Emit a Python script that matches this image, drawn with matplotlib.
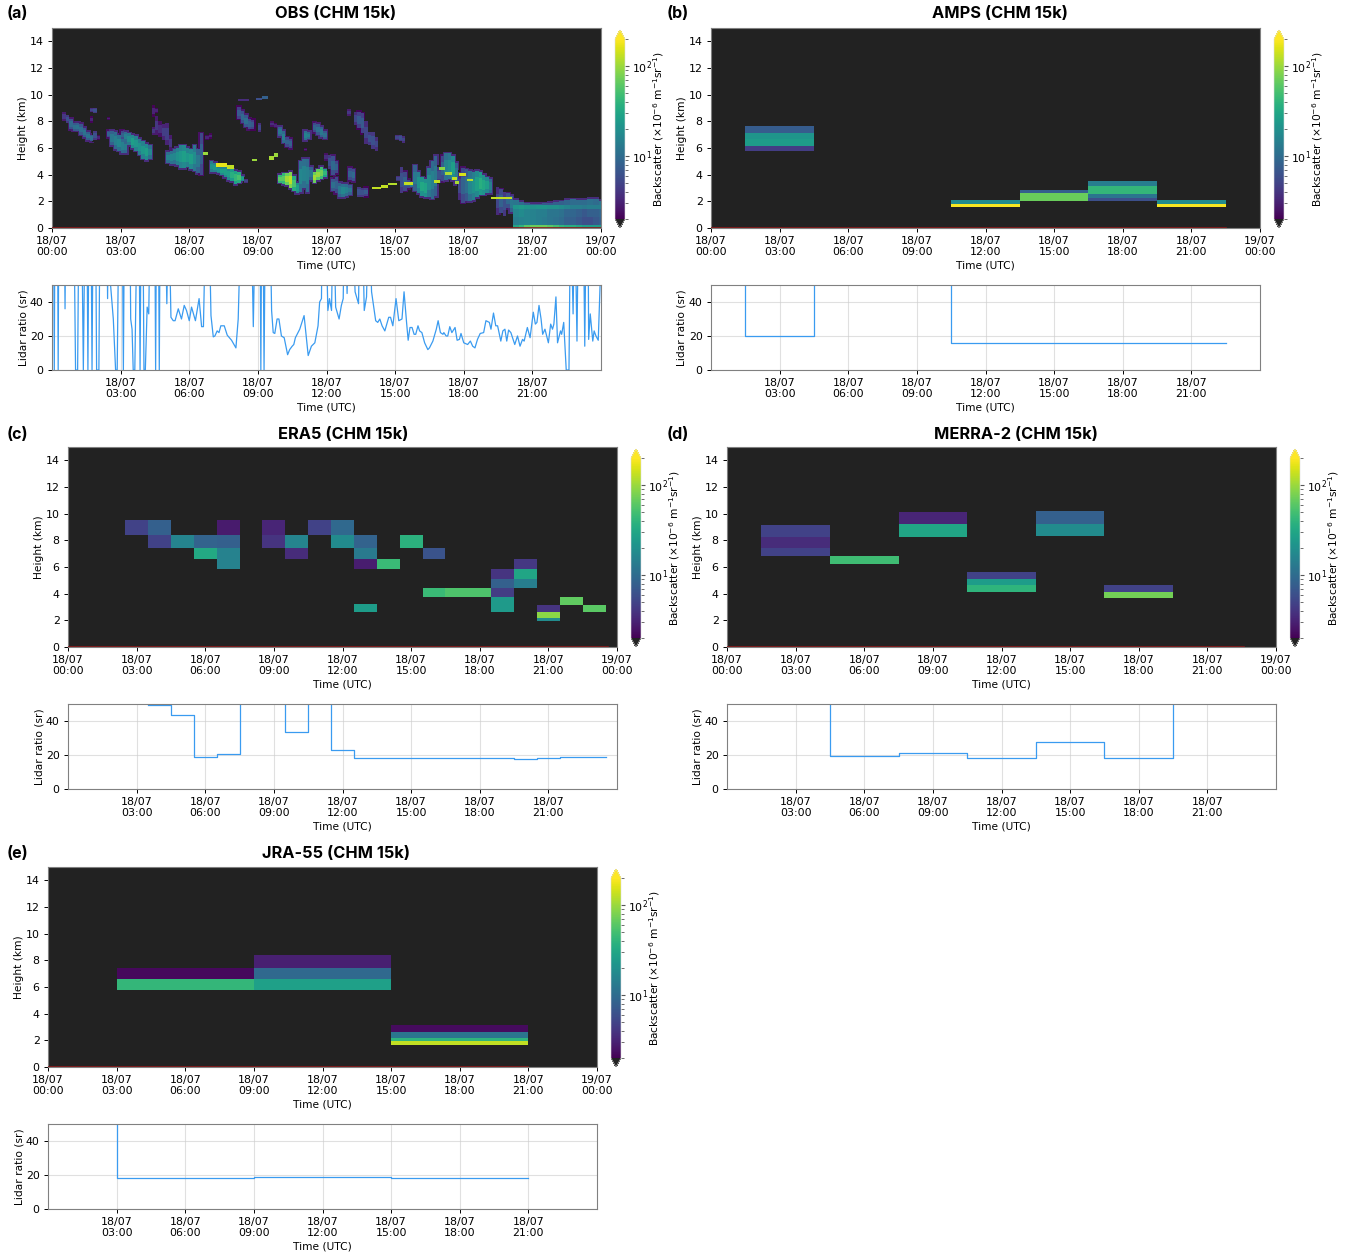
import numpy as np
import matplotlib
matplotlib.use('Agg')
import matplotlib.pyplot as plt
from matplotlib.colors import LogNorm

FIG_W, FIG_H = 1350, 1254

tick_hours = [0, 3, 6, 9, 12, 15, 18, 21, 24]
tick_labels = ['18/07\n00:00', '18/07\n03:00', '18/07\n06:00', '18/07\n09:00', '18/07\n12:00',
               '18/07\n15:00', '18/07\n18:00', '18/07\n21:00', '19/07\n00:00']

# (hour, z bottom, z top, backscatter), one 0.15 h wide column each
obs_columns = [
    (0.45, 8.0, 8.7, 4), (0.60, 7.9, 8.5, 6), (0.75, 7.4, 8.2, 9), (0.90, 7.3, 7.9, 10), (1.05, 7.3, 7.9, 11),
    (1.20, 7.0, 7.8, 10), (1.35, 6.8, 7.5, 11), (1.50, 6.6, 7.2, 11), (1.65, 6.5, 7.0, 10), (1.80, 6.6, 7.3, 6),
    (1.95, 6.6, 7.0, 3), (1.65, 7.9, 8.4, 3), (1.65, 8.7, 9.0, 5), (1.80, 8.6, 9.0, 6), (2.40, 8.1, 8.3, 3),
    (2.40, 6.8, 7.3, 8), (2.55, 6.2, 7.3, 12), (2.70, 5.9, 7.2, 14), (2.85, 5.8, 7.0, 16), (3.00, 5.6, 6.7, 14),
    (3.00, 6.7, 7.3, 8), (3.15, 5.6, 6.5, 13), (3.15, 6.5, 7.2, 14), (3.30, 6.2, 7.1, 18), (3.45, 6.0, 7.0, 25),
    (3.60, 5.8, 6.9, 22), (3.75, 5.5, 6.7, 20), (3.90, 5.2, 6.5, 22), (4.05, 5.1, 6.3, 25), (4.20, 5.2, 6.2, 16),
    (4.35, 7.0, 7.6, 4), (4.35, 8.3, 9.2, 3), (4.50, 7.0, 8.4, 4), (4.50, 8.6, 9.0, 3), (4.65, 6.8, 8.0, 3.5),
    (4.80, 6.6, 7.8, 4.5), (4.95, 6.2, 7.9, 4.5), (5.10, 5.8, 7.0, 4), (5.00, 4.9, 5.7, 15), (5.15, 4.8, 5.8, 16),
    (5.30, 4.8, 5.9, 16), (5.40, 4.7, 6.0, 20), (5.55, 4.5, 6.2, 22), (5.70, 4.5, 6.2, 25), (5.85, 4.6, 6.0, 22),
    (6.00, 4.4, 5.9, 25), (6.15, 4.3, 6.2, 18), (6.30, 4.1, 5.9, 12), (6.45, 4.0, 7.1, 8), (6.70, 6.6, 7.0, 3),
    (6.85, 6.7, 7.1, 3), (6.90, 4.2, 5.0, 20), (7.05, 4.2, 4.9, 22), (7.20, 4.1, 4.6, 20), (7.35, 4.0, 4.6, 25),
    (7.50, 3.8, 4.6, 25), (7.65, 3.6, 4.55, 25), (7.80, 3.5, 4.4, 35), (7.95, 3.3, 4.3, 40), (8.10, 3.4, 4.2, 50),
    (8.25, 3.5, 3.9, 25), (8.40, 3.4, 3.7, 5), (8.10, 8.2, 9.1, 7), (8.25, 7.9, 8.8, 9), (8.40, 7.6, 8.5, 10),
    (8.55, 7.4, 8.2, 8), (8.70, 7.4, 8.1, 7), (9.00, 7.2, 7.9, 5), (9.55, 7.6, 8.0, 3.5), (9.70, 7.5, 7.9, 3),
    (9.90, 6.9, 7.6, 12), (10.05, 6.4, 7.3, 14), (10.20, 6.1, 6.8, 8), (10.35, 6.0, 6.7, 8), (9.90, 3.4, 4.0, 60),
    (10.05, 3.3, 4.1, 60), (10.20, 3.2, 4.1, 100), (10.35, 3.0, 4.2, 120), (10.50, 2.8, 3.9, 50), (10.65, 2.6, 3.4, 25),
    (10.80, 2.7, 5.0, 16), (10.95, 3.0, 5.2, 15), (11.10, 2.7, 5.2, 14), (11.25, 3.6, 4.6, 12), (11.40, 3.4, 4.2, 100),
    (11.55, 3.6, 4.4, 90), (11.70, 3.7, 4.6, 70), (11.85, 3.8, 4.4, 40), (11.00, 6.6, 7.3, 15), (11.15, 6.7, 7.2, 14),
    (11.40, 7.2, 7.9, 8), (11.55, 7.0, 7.8, 10), (11.70, 6.8, 7.6, 12), (11.85, 6.7, 7.3, 10), (11.00, 5.8, 6.0, 3),
    (11.90, 5.0, 5.6, 3.5), (12.05, 4.4, 5.5, 6), (12.20, 4.0, 5.4, 9), (12.35, 4.1, 5.0, 8), (12.20, 2.8, 3.7, 10),
    (12.35, 2.6, 3.8, 8), (12.50, 2.3, 3.4, 12), (12.65, 2.3, 3.3, 16), (12.80, 2.4, 3.3, 14), (12.95, 2.5, 3.2, 12),
    (12.95, 3.6, 4.5, 8), (13.10, 3.5, 4.4, 9), (13.35, 2.3, 3.1, 6), (13.50, 2.3, 3.0, 6), (13.65, 2.4, 3.0, 7),
    (12.90, 8.4, 8.9, 4), (13.20, 7.7, 8.7, 5), (13.35, 7.5, 8.7, 7), (13.50, 7.1, 8.6, 7), (13.65, 6.3, 8.0, 5),
    (13.80, 6.2, 7.2, 6), (13.95, 5.9, 7.2, 6), (14.10, 5.8, 6.8, 5), (15.00, 6.6, 7.0, 5), (15.15, 6.5, 7.0, 6),
    (15.30, 6.4, 6.9, 5), (15.05, 3.5, 3.9, 5), (15.20, 2.6, 4.6, 6), (15.35, 2.8, 4.2, 8), (15.50, 3.0, 3.6, 8),
    (15.65, 3.1, 3.4, 15), (15.80, 2.8, 4.7, 12), (15.95, 2.6, 4.2, 20), (16.10, 2.4, 3.8, 30), (16.25, 2.3, 3.7, 28),
    (16.40, 2.3, 4.5, 18), (16.55, 2.2, 5.0, 14), (16.70, 2.4, 5.4, 12), (16.85, 3.4, 4.6, 6), (17.00, 3.5, 5.4, 8),
    (17.15, 3.6, 5.6, 15), (17.30, 3.7, 5.6, 18), (17.45, 3.6, 5.4, 25), (17.60, 3.3, 4.9, 12), (17.75, 2.1, 4.2, 5),
    (17.90, 1.9, 4.5, 8), (18.05, 2.0, 4.4, 10), (18.20, 2.0, 4.3, 16), (18.35, 2.1, 4.2, 20), (18.50, 2.3, 4.3, 25),
    (18.65, 2.5, 4.2, 35), (18.80, 2.5, 4.0, 30), (18.95, 2.6, 3.8, 25), (19.10, 2.6, 3.7, 14), (19.40, 1.0, 3.1, 5),
    (19.55, 1.1, 2.9, 8), (19.70, 0.9, 2.7, 6), (19.85, 1.5, 2.6, 9), (20.00, 1.2, 2.4, 12),
]

# thin bright layers on top of the columns: (t0, t1, z0, z1, backscatter)
obs_bright = [
    (6.60, 6.80, 5.5, 5.7, 100), (7.15, 7.65, 4.6, 4.85, 170), (7.65, 7.95, 4.45, 4.75, 130), (8.75, 8.95, 5.0, 5.2, 100),
    (9.50, 9.70, 5.1, 5.4, 110), (9.70, 9.90, 5.3, 5.6, 100), (14.00, 14.40, 2.9, 3.1, 130), (14.40, 14.70, 3.0, 3.25, 130),
    (14.70, 15.10, 3.2, 3.4, 120), (15.40, 15.80, 3.25, 3.45, 130), (16.70, 16.95, 3.4, 3.6, 130), (16.90, 17.20, 4.35, 4.55, 90),
    (17.20, 17.50, 4.0, 4.2, 110), (17.50, 17.70, 3.6, 3.8, 130), (17.60, 17.80, 3.3, 3.5, 110), (17.80, 18.10, 3.9, 4.1, 150),
    (18.15, 18.40, 3.5, 3.7, 120), (19.20, 20.10, 2.15, 2.35, 130),
]
obs_streaks = [(8.15, 8.60, 9.55, 9.7, 3.5), (8.90, 9.20, 9.6, 9.75, 6), (9.20, 9.45, 9.7, 9.9, 8)]

# low layer at the end of the day, one value per 0.25 h column
tail_hours = [20.15, 20.4, 20.65, 20.9, 21.15, 21.4, 21.65, 21.9, 22.15, 22.4, 22.65, 22.9, 23.15, 23.4, 23.65, 23.9]
tail_top = [2.1, 1.95, 1.85, 1.8, 1.8, 1.85, 1.9, 1.95, 2.0, 2.1, 2.15, 2.1, 2.1, 2.2, 2.2, 2.05]
tail_ground = [30, 40, 60, 70, 70, 70, 60, 50, 40, 35, 35, 30, 25, 25, 25, 25]
tail_low = [14, 15, 16, 15, 14, 13, 12, 11, 10, 8, 8, 7, 6, 6, 7, 8]
tail_mid = [16, 18, 16, 15, 14, 14, 12, 12, 11, 9, 9, 8, 7, 8, 8, 9]
tail_bright = [22, 24, 22, 20, 22, 22, 20, 20, 18, 16, 14, 14, 13, 14, 14, 14]
tail_cap = [12, 10, 8, 8, 8, 7, 7, 8, 8, 9, 10, 10, 10, 11, 10, 12]

# model cells: (t0, t1, z0, z1, backscatter)
amps_cells = [
    (1.5, 4.5, 7.14, 7.67, 7.5), (1.5, 4.5, 6.64, 7.14, 22), (1.5, 4.5, 6.17, 6.64, 25), (1.5, 4.5, 5.74, 6.17, 4.5),
    (10.5, 13.5, 1.83, 2.08, 18), (10.5, 13.5, 1.58, 1.83, 190),
    (13.5, 16.5, 2.6, 2.86, 8), (13.5, 16.5, 2.05, 2.6, 70),
    (16.5, 19.5, 3.16, 3.5, 14), (16.5, 19.5, 2.56, 3.16, 42), (16.5, 19.5, 2.28, 2.56, 12), (16.5, 19.5, 2.03, 2.28, 6),
    (19.5, 22.5, 1.83, 2.08, 18), (19.5, 22.5, 1.58, 1.83, 190),
]
era5_cells = [
    (2.5, 3.5, 8.4, 9.5, 5), (3.5, 4.5, 8.4, 9.5, 8), (3.5, 4.5, 7.46, 8.4, 5), (4.5, 5.5, 7.46, 8.4, 16),
    (5.5, 6.5, 7.46, 8.4, 8.5), (5.5, 6.5, 6.6, 7.46, 32), (6.5, 7.5, 8.4, 9.5, 2.8), (6.5, 7.5, 7.46, 8.4, 8),
    (6.5, 7.5, 6.6, 7.46, 15), (6.5, 7.5, 5.83, 6.6, 15), (8.5, 9.5, 8.4, 9.5, 3.2), (8.5, 9.5, 7.46, 8.4, 4),
    (9.5, 10.5, 7.46, 8.4, 16), (9.5, 10.5, 6.6, 7.46, 3.5), (10.5, 11.5, 8.4, 9.5, 5), (11.5, 12.5, 8.4, 9.5, 9.5),
    (11.5, 12.5, 7.46, 8.4, 18), (12.5, 13.5, 7.46, 8.4, 8.5), (12.5, 13.5, 6.6, 7.46, 13), (12.5, 13.5, 5.83, 6.6, 2.9),
    (12.5, 13.5, 2.6, 3.2, 25), (13.5, 14.5, 5.83, 6.6, 45), (14.5, 15.5, 7.46, 8.4, 38), (15.5, 16.5, 6.6, 7.46, 6.5),
    (15.5, 16.5, 3.77, 4.4, 45), (16.5, 18.5, 3.77, 4.4, 55), (18.5, 19.5, 5.07, 5.83, 4), (18.5, 19.5, 4.4, 5.07, 8),
    (18.5, 19.5, 3.77, 4.4, 4.5), (18.5, 19.5, 2.6, 3.77, 24), (19.5, 20.5, 5.83, 6.6, 4.2), (19.5, 20.5, 5.07, 5.83, 30),
    (19.5, 20.5, 4.4, 5.07, 14), (20.5, 21.5, 2.6, 3.14, 4), (20.5, 21.5, 2.2, 2.6, 90), (20.5, 21.5, 1.96, 2.2, 18),
    (21.5, 22.5, 3.16, 3.77, 65), (22.5, 23.5, 2.6, 3.16, 62),
]
merra_cells = [
    (1.5, 4.5, 8.24, 9.17, 5), (1.5, 4.5, 7.46, 8.24, 3.5), (1.5, 4.5, 6.86, 7.46, 5),
    (4.5, 7.5, 6.2, 6.83, 48),
    (7.5, 10.5, 9.22, 10.15, 3.2), (7.5, 10.5, 8.27, 9.22, 30),
    (10.5, 13.5, 5.13, 5.65, 5), (10.5, 13.5, 4.62, 5.13, 25), (10.5, 13.5, 4.15, 4.62, 40),
    (13.5, 16.5, 9.22, 10.23, 8), (13.5, 16.5, 8.3, 9.22, 18),
    (16.5, 19.5, 4.15, 4.62, 5), (16.5, 19.5, 3.64, 4.15, 75),
]
jra_cells = [
    (3, 9, 6.58, 7.44, 2.2), (3, 9, 5.78, 6.58, 42),
    (9, 15, 7.46, 8.4, 3), (9, 15, 6.58, 7.46, 9.5), (9, 15, 5.78, 6.58, 27),
    (15, 21, 2.61, 3.12, 2.3), (15, 21, 2.19, 2.61, 12), (15, 21, 1.93, 2.19, 40), (15, 21, 1.68, 1.93, 130),
]

# lidar ratio, 100 means off the top of the axis
obs_lr_hours = [
    0.07, 0.10, 0.13, 0.24, 0.27, 0.30, 0.53, 0.57, 0.61, 0.95, 1.03, 1.12, 1.18, 1.29, 1.37, 1.45, 1.52, 1.57, 1.62,
    1.70, 1.75, 1.80, 1.90, 1.95, 2.05, 2.10, 2.39, 2.43, 2.47, 2.56, 2.68, 2.78, 2.85, 2.93, 3.07, 3.12, 3.17, 3.40,
    3.44, 3.50, 3.55, 3.62, 3.73, 3.80, 3.85, 3.90, 3.97, 4.02, 4.08, 4.16, 4.23, 4.30, 4.49, 4.53, 4.57, 4.65, 4.69,
    4.73, 4.94, 5.02, 5.10, 5.20, 5.30, 5.38, 5.52, 5.66, 5.78, 5.88, 6.00, 6.10, 6.27, 6.43, 6.54, 6.62, 6.73, 6.85,
    6.95, 7.05, 7.12, 7.22, 7.30, 7.38, 7.53, 7.66, 7.85, 8.04, 8.14, 8.28, 8.70, 8.80, 8.90, 9.09, 9.13, 9.17, 9.22,
    9.27, 9.33, 9.38, 9.52, 9.60, 9.67, 9.74, 9.84, 9.92, 10.03, 10.15, 10.30, 10.39, 10.50, 10.57, 10.64, 10.83,
    11.02, 11.20, 11.34, 11.49, 11.63, 11.70, 11.78, 11.82, 11.95, 12.06, 12.13, 12.22, 12.30, 12.40, 12.55, 12.65,
    12.73, 12.80, 12.90, 13.00, 13.10, 13.25, 13.40, 13.47, 13.55, 13.65, 13.75, 13.85, 13.97, 14.15, 14.24, 14.33,
    14.43, 14.55, 14.72, 14.80, 14.90, 15.04, 15.16, 15.30, 15.39, 15.50, 15.57, 15.65, 15.74, 15.83, 15.90, 16.00,
    16.07, 16.17, 16.29, 16.43, 16.50, 16.65, 16.80, 16.88, 16.98, 17.09, 17.13, 17.23, 17.30, 17.39, 17.48, 17.62,
    17.71, 17.81, 17.88, 18.00, 18.17, 18.29, 18.39, 18.49, 18.60, 18.72, 18.87, 18.97, 19.12, 19.19, 19.30, 19.40,
    19.48, 19.62, 19.71, 19.80, 19.88, 19.96, 20.06, 20.23, 20.35, 20.46, 20.57, 20.64, 20.78, 20.90, 21.04, 21.13,
    21.20, 21.29, 21.38, 21.45, 21.55, 21.70, 21.80, 21.88, 21.94, 22.03, 22.10, 22.23, 22.28, 22.37, 22.48, 22.60,
    22.67, 22.78, 22.85, 22.95, 23.02, 23.22, 23.29, 23.36, 23.43, 23.46, 23.53, 23.64, 23.70, 23.78, 23.88, 23.96,
]
obs_lr_values = [
    100, 0, 100, 100, 0, 100, 100, 36, 100, 100, 0, 0, 100, 100, 0, 100, 100, 0, 100,
    100, 0, 100, 100, 0, 0, 100, 100, 42, 100, 50, 30, 0, 0, 100, 100, 0, 100, 100,
    30, 24, 0, 0, 100, 100, 0, 100, 100, 0, 0, 37, 33, 100, 100, 0, 100, 100, 0,
    100, 100, 39, 100, 31, 29, 29, 36, 30, 38, 35, 29, 37, 29, 42, 25.5, 25.5, 100, 100,
    32, 19.5, 20, 23, 22, 26, 26, 20.5, 17.5, 13, 30, 100, 100, 25.5, 100, 100, 0, 100, 100,
    0, 100, 100, 100, 35, 22, 21.5, 30, 30, 20, 19, 9, 12, 14, 15, 19, 24,
    32, 8.5, 14, 16, 26, 40, 42, 100, 100, 35, 42, 35, 100, 37, 30, 38,
    42, 100, 45, 100, 100, 46, 39, 100, 100, 35, 43, 100, 46, 29, 28, 30,
    26, 23, 31, 31, 26, 42, 29, 30, 46, 28, 17.5, 25, 25, 21, 21, 26,
    23, 22, 16, 12, 13, 17, 24, 29, 22, 21, 22, 20, 20, 25.5, 22, 25,
    17.5, 18, 21.5, 16, 15, 17, 14, 13, 18, 21.5, 22, 29, 28, 24, 33.5, 26,
    26, 17, 23, 24, 17, 23.5, 22, 15, 20, 14, 18, 17, 25, 19, 34, 27,
    28, 38, 30, 21, 24, 16, 27, 24, 27, 43, 16, 23, 21, 28, 0, 0,
    100, 33, 100, 17, 100, 100, 14, 100, 100, 18, 33, 17, 23, 20, 17.5, 50,
]
amps_lr_hours = [1.45, 1.5, 4.5, 10.5, 22.5]
amps_lr_values = [100, 20, 100, 16, 16]
era5_lr_hours = [3.5, 4.5, 5.5, 6.5, 7.5, 9.5, 10.5, 11.5, 12.5, 19.5, 20.5, 21.5, 23.5]
era5_lr_values = [49.6, 43.8, 19, 20.3, 100, 33.7, 100, 23.2, 18, 17.6, 18, 18.9, 18.9]
merra_lr_hours = [4.45, 4.5, 7.5, 10.5, 13.5, 16.5, 19.5]
merra_lr_values = [100, 19.3, 21, 18, 27.5, 18, 100]
jra_lr_hours = [2.95, 3, 9, 15, 21]
jra_lr_values = [100, 18.2, 19, 18.2, 18.2]

panel_tags = ['(a)', '(b)', '(c)', '(d)', '(e)']
panel_titles = ['OBS (CHM 15k)', 'AMPS (CHM 15k)', 'ERA5 (CHM 15k)', 'MERRA-2 (CHM 15k)', 'JRA-55 (CHM 15k)']
surface_end = [24, 22.5, 23.6, 22.6, 21]


def obs_cells():
    # each column gets a faint rim and a stronger core so the clouds fade at the edges
    rim, body, core = [], [], []
    for t, z0, z1, v in obs_columns:
        dz = z1 - z0
        rim.append((t - 0.04, t + 0.19, max(z0 - 0.12, 0), z1 + 0.12, min(v * 0.3, 3.5)))
        body.append((t, t + 0.15, z0, z1, v * 0.7))
        core.append((t, t + 0.15, z0 + 0.25 * dz, z1 - 0.25 * dz, v * 1.05))
    cells = rim + body + core
    for i, t in enumerate(tail_hours):
        t1 = t + 0.25
        cells.append((t, t1, 0.0, 0.2, tail_ground[i]))
        cells.append((t, t1, 0.2, 0.8, tail_low[i]))
        cells.append((t, t1, 0.8, 1.4, tail_mid[i]))
        cells.append((t, t1, 1.4, 1.7, tail_bright[i]))
        cells.append((t, t1, 1.7, tail_top[i], tail_cap[i]))
        cells.append((t, t1, tail_top[i], tail_top[i] + 0.12, 3.5))
    return cells + obs_bright + obs_streaks


def to_grid(cells):
    # paint the cells on a fine regular grid so one pcolormesh does the panel
    t_edges = np.arange(0, 24.0001, 0.025)
    z_edges = np.arange(0, 15.0001, 0.025)
    grid = np.full((len(z_edges) - 1, len(t_edges) - 1), np.nan)
    for t0, t1, z0, z1, v in cells:
        i0, i1 = int(round(t0 / 0.025)), int(round(t1 / 0.025))
        j0, j1 = int(round(z0 / 0.025)), int(round(z1 / 0.025))
        grid[j0:j1, i0:i1] = v
    return t_edges, z_edges, np.ma.masked_invalid(grid)


def px_axes(fig, left, top, right, bottom):
    return fig.add_axes([left / FIG_W, 1 - bottom / FIG_H, (right - left) / FIG_W, (bottom - top) / FIG_H])


def style_time_axis(ax, hours, labels):
    ax.set_xlim(0, 24)
    ax.set_xticks(hours)
    ax.set_xticklabels(labels, linespacing=1.05)
    ax.tick_params(length=3, pad=3, width=0.7)
    ax.set_xlabel('Time (UTC)', labelpad=2.5)
    for s in ax.spines.values():
        s.set_color('#808080')


def draw_panel(fig, idx, cells, lr_hours, lr_values, x0, y0, tag_x, tag_y, title_x):
    x1 = x0 + 549
    cmap = plt.get_cmap('viridis').copy()
    cmap.set_under('#222222')
    norm = LogNorm(vmin=2, vmax=200)

    ax = px_axes(fig, x0, y0, x1, y0 + 200)
    ax.set_facecolor('#222222')
    t_edges, z_edges, grid = to_grid(cells)
    mesh = ax.pcolormesh(t_edges, z_edges, grid, cmap=cmap, norm=norm, shading='flat')
    ax.plot([0, surface_end[idx]], [0, 0], color='#8b1a1a', lw=1.2, zorder=3)
    ax.set_ylim(0, 15)
    ax.set_yticks(range(0, 15, 2))
    style_time_axis(ax, tick_hours, tick_labels)
    ax.set_ylabel('Height (km)')
    ax.yaxis.set_label_coords(-24 / 549, 0.5)

    cax = px_axes(fig, x1 + 14, y0 + 2, x1 + 24, y0 + 200)
    cbar = fig.colorbar(mesh, cax=cax, extend='both')
    cbar.set_label(r'Backscatter ($\times 10^{-6}$ m$^{-1}$sr$^{-1}$)')
    cax.yaxis.set_label_coords(3.6, 0.5)
    cbar.outline.set_edgecolor('#dddddd')
    cbar.outline.set_linewidth(0.4)
    cax.tick_params(which='major', length=3, pad=2, color='#555555')
    cax.tick_params(which='minor', length=1.8, color='#555555')

    lr_ax = px_axes(fig, x0, y0 + 257, x1, y0 + 342)
    lr_ax.plot(lr_hours, lr_values, color='#3a9bf0', lw=0.9, drawstyle='default' if idx == 0 else 'steps-post')
    lr_ax.set_ylim(0, 50)
    lr_ax.set_yticks([0, 20, 40])
    style_time_axis(lr_ax, tick_hours[1:-1], tick_labels[1:-1])
    lr_ax.grid(True, color='#cccccc', alpha=0.6, lw=0.8)
    lr_ax.set_axisbelow(True)
    lr_ax.set_ylabel('Lidar ratio (sr)')
    lr_ax.yaxis.set_label_coords(-24 / 549, 0.5)

    fig.text(tag_x / FIG_W, 1 - tag_y / FIG_H, panel_tags[idx], fontsize=11.5, fontweight='bold',
             family='Inter', ha='left', va='center')
    fig.text(title_x / FIG_W, 1 - tag_y / FIG_H, panel_titles[idx], fontsize=11.8, fontweight='bold',
             family='Inter', ha='center', va='center')


plt.rcParams['font.size'] = 7.8
plt.rcParams['axes.labelsize'] = 7.7
plt.rcParams['xtick.labelsize'] = 7.9
plt.rcParams['ytick.labelsize'] = 7.9

fig = plt.figure(figsize=(FIG_W / 100, FIG_H / 100), dpi=100)

draw_panel(fig, 0, obs_cells(), obs_lr_hours, obs_lr_values, 52, 28, 7, 14, 336)
draw_panel(fig, 1, amps_cells, amps_lr_hours, amps_lr_values, 711, 28, 667, 14, 1000)
draw_panel(fig, 2, era5_cells, era5_lr_hours, era5_lr_values, 68, 447, 7, 434, 343)
draw_panel(fig, 3, merra_cells, merra_lr_hours, merra_lr_values, 727, 447, 667, 434, 1016)
draw_panel(fig, 4, jra_cells, jra_lr_hours, jra_lr_values, 48, 867, 7, 853, 336)

fig.savefig('out.png', dpi=100, facecolor='white')
